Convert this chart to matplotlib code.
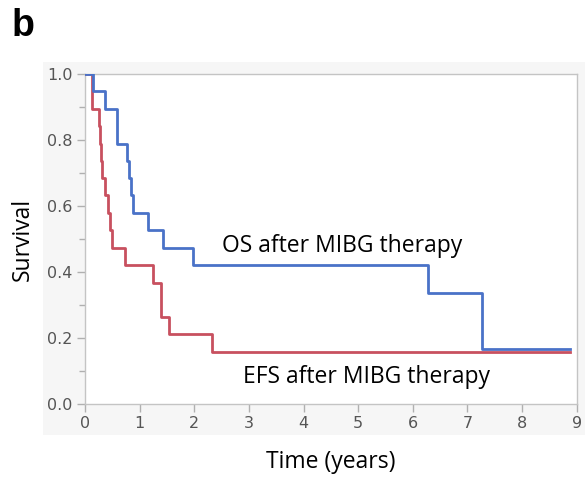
import matplotlib
matplotlib.use("Agg")
import matplotlib.pyplot as plt
from matplotlib.patches import Rectangle

# Overall survival (OS) after MIBG therapy
os_times = [0.0, 0.15, 0.37, 0.58, 0.76, 0.81, 0.84, 0.87, 1.16, 1.43, 1.98, 6.27, 7.26, 8.88]
os_surv = [1.0, 0.947, 0.895, 0.789, 0.737, 0.684, 0.632, 0.579, 0.526, 0.474, 0.421, 0.337, 0.168, 0.168]

# Event-free survival (EFS) after MIBG therapy
efs_times = [0.0, 0.12, 0.26, 0.28, 0.30, 0.32, 0.37, 0.42, 0.46, 0.50, 0.73, 1.24, 1.39, 1.53, 2.32, 8.88]
efs_surv = [1.0, 0.895, 0.842, 0.789, 0.737, 0.684, 0.632, 0.579, 0.526, 0.474, 0.421, 0.368, 0.263, 0.211, 0.158, 0.158]

x_ticks = [0, 1, 2, 3, 4, 5, 6, 7, 8, 9]
y_ticks = [0.0, 0.2, 0.4, 0.6, 0.8, 1.0]
y_tick_labels = ["0.0", "0.2", "0.4", "0.6", "0.8", "1.0"]

W, H = 585, 478
fig = plt.figure(figsize=(W / 100, H / 100), dpi=100)
fig.patch.set_facecolor("white")

# light gray panel behind the plot
fig.patches.append(Rectangle((43 / W, 1 - 435 / H), 1 - 43 / W, (435 - 62) / H,
                             transform=fig.transFigure, facecolor="#f6f6f6",
                             edgecolor="none", zorder=-5))

ax = fig.add_axes([85 / W, 1 - 404 / H, (576.7 - 85) / W, (404 - 74) / H])
ax.set_zorder(2)
ax.set_facecolor("white")

blue = "#4a72c8"
red = "#c8505f"
ax.step(efs_times, efs_surv, where="post", color=red, lw=2.0, zorder=3)
ax.step(os_times, os_surv, where="post", color=blue, lw=2.0, zorder=4)

ax.set_xlim(0, 9)
ax.set_ylim(0, 1.0)
ax.set_xticks(x_ticks)
ax.set_yticks(y_ticks)
ax.set_yticklabels(y_tick_labels)
ax.set_yticks([0.1, 0.3, 0.5, 0.7, 0.9], minor=True)

for s in ax.spines.values():
    s.set_color("#c4c4c4")
    s.set_linewidth(1.0)

ax.tick_params(axis="both", which="major", length=6, width=1.0, color="#b0b0b0",
               labelsize=11.5, labelcolor="#555555", pad=3)
ax.tick_params(axis="y", which="minor", length=4, width=1.0, color="#b0b0b0")
for lab in ax.get_xticklabels() + ax.get_yticklabels():
    lab.set_family("DejaVu Sans")

ax.set_xlabel("Time (years)", fontsize=16.5, family="Open Sans", labelpad=13, color="black")
ax.set_ylabel("Survival", fontsize=16.5, family="Open Sans", labelpad=9, color="black")

ax.text(2.5, 0.48, "OS after MIBG therapy", fontsize=16.5, family="Open Sans",
        va="center", ha="left", color="black")
ax.text(2.89, 0.082, "EFS after MIBG therapy", fontsize=16.5, family="Open Sans",
        va="center", ha="left", color="black")

fig.text(12 / W, 1 - 26 / H, "b", fontsize=27, fontweight="bold",
         family="Liberation Sans", va="center", ha="left")

fig.savefig("out.png", dpi=100)
